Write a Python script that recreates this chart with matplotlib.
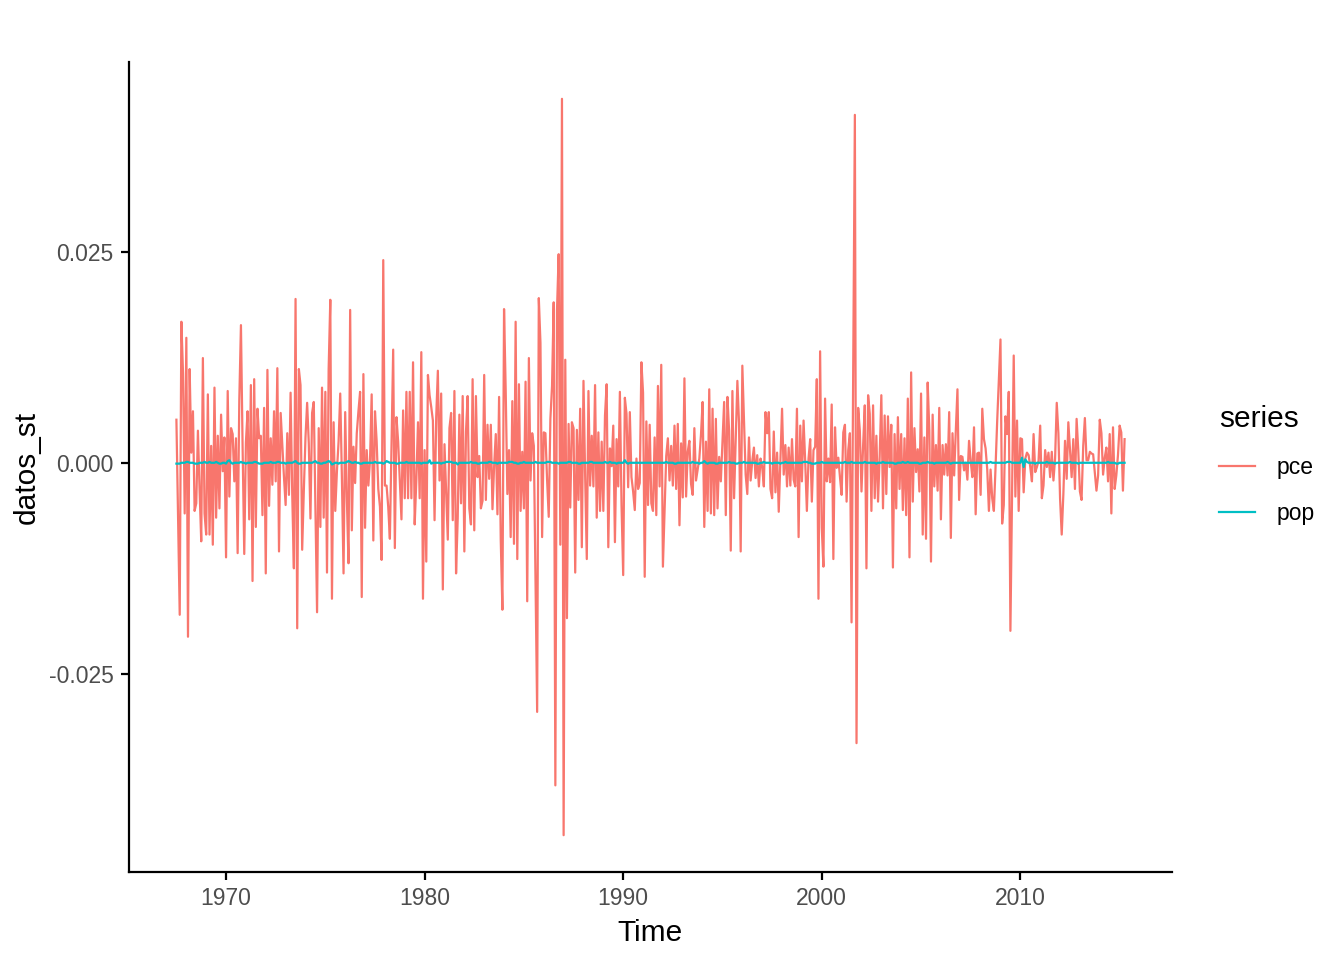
import numpy as np
import matplotlib
matplotlib.use("Agg")
import matplotlib.pyplot as plt
from matplotlib.ticker import FuncFormatter, FixedLocator

plt.rcParams['font.family'] = ['Liberation Sans', 'DejaVu Sans']
plt.rcParams['axes.unicode_minus'] = False

# ---------------- data ----------------
start_year = 1967.5          # first observation (July 1967), monthly series
series_names = ["pce", "pop"]
series_colors = ["#F8766D", "#00BFC4"]

# pce, stationary transform, in units of 1e-3
pce_1967_1973 = [
    5.1, -6.5, -18.0, 16.7, 10.6, -6.0, 14.8, -20.6, 11.1, 1.2,
    6.1, -5.7, -4.8, 3.8, -3.2, -9.3, 12.4, -6.0, -8.5, 8.1,
    -8.5, 2.0, -9.7, 8.9, -6.5, 3.2, -5.4, 5.7, -1.0, 3.0,
    -11.2, 8.5, -4.0, 4.1, 3.4, -2.2, 2.9, -10.7, 7.4, 16.3,
    1.9, -10.8, 2.4, 6.1, -6.7, 9.2, -14.0, 9.9, -7.6, 6.4,
    2.9, 3.2, -6.2, 6.5, -13.1, 11.0, -5.1, 2.9, -2.6, 6.1,
    -2.2, 11.2, -10.5, 5.9, 2.1, -1.7, -5.0, 3.5, -3.8]
pce_1973_1979 = [
    8.3, -3.8, -12.5, 19.4, -19.6, 11.1, 9.2, -10.3, -3.3, 3.0,
    7.1, 2.3, -6.6, 5.9, 7.2, -5.1, -17.7, 4.1, -7.6, 8.9,
    -6.5, 8.4, -13.0, 11.1, 19.3, -16.1, 4.8, -5.7, -1.0, 2.5,
    8.2, -1.7, -13.1, 6.0, -4.2, -11.9, 18.1, -8.0, 1.9, -2.4,
    3.5, 6.1, 8.4, -15.9, 10.5, -7.7, 1.5, -2.7, 0.3, 8.1,
    -9.2, 6.1, 2.6, -3.1, -5.2, -11.5, 24.0, -2.7, -2.7, -5.2,
    -9.0, 2.2, 13.4, -10.1, 5.4, 2.5, -2.2, -6.7, 6.2, -4.2,
    8.4, -4.2]
pce_1979_1985 = [
    8.4, -4.2, 11.9, -7.3, -2.0, 4.8, -4.2, 13.1, -16.1, 1.5,
    -11.7, 10.4, 8.0, 6.6, 5.0, -6.8, 5.4, 10.9, -2.1, 8.2,
    -15.0, 2.2, -3.4, -9.1, 4.1, 5.9, -6.8, 8.5, -13.1, -6.6,
    5.7, -4.8, 7.9, -10.5, 3.7, 7.9, -5.4, -7.3, 9.9, -8.0,
    7.9, -1.7, 0.8, -5.4, -4.5, 10.4, -4.4, 4.5, -1.9, 4.5,
    -5.5, -0.4, 3.4, -6.1, 7.8, -9.1, -17.4, 18.2, 8.5, -3.7,
    1.5, -8.8, 7.3, -9.6, 16.7, -11.4, 9.3, -5.7, 1.3, -5.4,
    9.6, -16.4]
pce_1985_1991 = [
    12.4, -2.1, 3.5, 2.0, -13.7, -29.5, 19.5, 14.2, -8.8, 3.6,
    3.5, -2.0, -6.4, 5.2, 9.1, 19.0, -38.2, 18.1, 24.7, -9.7,
    43.1, -44.1, 12.2, -18.4, 4.6, -5.3, 4.8, 4.1, -13.0, 3.9,
    -4.4, 6.4, -10.0, 9.7, -1.5, -11.4, 8.5, -2.7, 3.2, -2.8,
    9.2, -6.5, 3.6, -5.7, 2.5, -5.7, 5.6, 9.3, -10.0, 1.7,
    -0.4, 4.4, -9.4, 2.8, -2.8, 8.4, -5.1, -13.3, 7.7, 5.8,
    -2.9, 6.0, -1.7, -3.4, -5.6, 0.5, -3.1, -2.4, 11.9, 8.3,
    -13.5, 4.9, -5.0]
pce_1991_1997 = [
    4.5, -4.8, -5.7, 3.0, -6.2, 9.1, -2.8, 11.6, -12.3, -5.7,
    0.8, 2.9, -2.1, 2.0, -2.7, 4.4, -3.1, 4.6, -7.4, 2.3,
    -4.1, 10.0, -4.0, 1.3, 2.6, -2.5, -3.8, 4.1, -2.1, -0.8,
    0.5, 3.3, 7.2, -7.6, 2.5, -5.7, 8.7, -6.0, 6.4, -6.2,
    5.2, -5.4, 0.7, -2.2, 2.5, 7.2, -6.2, 7.8, 3.8, -10.4,
    8.5, -4.2, 2.6, 9.7, 4.7, -10.5, 11.5, 5.0, -1.4, -3.7,
    3.0, -2.1, 0.2, 1.8, -1.8, 0.9, -2.8, 0.5, -0.5, -2.8,
    6.0, 3.5]
pce_1997_2003 = [
    6.0, -3.1, -4.2, 3.7, -3.5, 1.2, -5.8, 0.5, 6.4, -1.4,
    2.1, -2.8, 1.8, -2.7, 2.8, -2.0, -2.8, 6.4, -8.8, 4.4,
    -2.2, 5.0, 0.1, -5.7, 0.5, 2.8, -4.6, 1.5, 1.9, 9.9,
    -16.1, 13.2, -7.7, -12.3, 7.6, -2.2, 0.5, -2.3, 6.9, -11.4,
    4.2, -0.6, 0.6, -1.7, -3.8, 3.6, 4.5, -4.6, 1.5, 3.5,
    -18.9, 11.2, 41.2, -33.2, 6.5, 3.8, -3.4, 2.1, 6.8, -12.5,
    8.0, 5.8, -5.7, 6.8, -4.2, 3.2, -4.6, 0.8, 8.0, -5.4,
    5.6, -3.7]
pce_2003_2009 = [
    5.5, -0.5, 4.5, -12.4, 3.4, -5.4, 5.4, -3.1, 3.4, -5.6,
    2.9, -6.2, 7.6, -11.2, 10.7, -4.6, 4.1, -1.1, 1.6, -3.4,
    8.2, -8.5, 3.0, -9.0, 9.5, 3.8, -11.7, 5.7, -2.8, 2.1,
    -3.3, 6.5, -6.7, 2.1, -1.4, 2.2, -1.5, 6.0, -8.9, 3.5,
    -1.5, 3.8, 8.7, -4.4, 0.8, 0.7, -0.9, 0.0, -2.0, 2.6,
    0.2, -1.7, 4.2, -6.1, 1.1, 1.2, -3.8, 6.4, 2.8, 1.7,
    -0.8, -5.7, -0.8, -4.2, -5.7, -0.6, 4.9, 9.8, 14.6, -7.2,
    -5.0, 5.5, 3.4]
pce_2009_2015 = [
    8.4, -19.9, -3.7, 12.7, -4.0, 5.0, -5.7, 2.9, 2.8, -3.5,
    0.5, 1.2, 0.9, -0.5, -2.2, 3.4, -1.1, -0.5, 0.2, 4.4,
    -4.2, -2.7, 1.5, -0.5, 1.2, -1.7, 1.3, -2.1, 0.5, 7.1,
    3.5, -4.2, -8.5, -3.7, 2.6, -1.9, 4.8, 1.5, -1.7, 2.8,
    -3.1, 5.2, 1.5, -3.4, -4.4, 2.0, 5.3, 0.3, 0.3, 1.3,
    1.1, 1.0, -1.1, -3.3, -1.5, 5.1, 3.5, -1.4, 0.6, 1.8,
    -2.2, 3.4, -6.0, 4.2, -3.1, -1.5, 0.9, 4.4, 3.6, -3.3,
    2.8]

# pop, stationary transform, in units of 1e-4
pop_1967_1973 = [
    -1, -1, -1, 0, 0, 0, 1, 1, 0, 0,
    0, -1, -1, -1, 0, 0, 0, 1, 0, 0,
    1, 0, 0, 0, 1, 0, -1, -1, 0, 0,
    -1, 2, 3, 0, -1, 0, 0, 0, 0, 1,
    0, 0, -1, 0, 0, 0, 0, 1, 1, 0,
    -1, -1, -1, 0, 0, 0, 0, 1, 0, 0,
    0, 1, 1, 0, 0, 0, -1, 0, 0]
pop_1973_1979 = [
    0, 0, 1, 2, 0, -1, -1, 0, 0, 0,
    0, 0, 0, 0, 1, 2, 0, 0, -1, -1,
    0, 0, 1, 2, 1, -2, -1, 0, 0, -1,
    0, 0, 0, 0, 1, 2, 1, 0, 0, 1,
    0, 0, -1, -1, 0, 0, 0, 0, 0, 0,
    0, 1, 0, 0, 0, 0, -1, 0, 2, 1,
    0, 0, 0, 0, -1, -1, 0, 0, 0, 0,
    1, 0]
pop_1979_1985 = [
    0, 0, 0, 0, 0, 0, 0, -1, 0, 0,
    0, 0, 3, -1, 0, 0, 0, 0, 0, -1,
    0, 0, 1, 1, 1, 1, 0, 0, 0, -2,
    0, 0, 0, 0, 0, 0, 0, 1, 0, 0,
    0, -1, -1, 0, 0, 0, 0, 0, 1, 1,
    0, 0, 0, -1, 0, 0, 0, 0, 0, 0,
    1, 1, 1, 0, 0, -1, -1, 0, 0, 1,
    0, 0]
pop_1985_1991 = [
    0, 0, 0, 0, 1, 0, 0, 0, 0, 0,
    0, 1, 1, 1, 0, 0, 0, 0, -1, 0,
    0, 0, 0, 0, 1, 1, 0, 0, 0, 0,
    -1, -1, 0, 0, 0, 0, 0, 1, 1, 0,
    0, 0, 0, 0, 0, 0, 1, 0, 0, 1,
    0, 0, 0, -1, 0, 0, 0, 0, 3, 0,
    -1, 0, 0, 0, 0, 0, 0, 0, 0, 0,
    0, 0, 0]
pop_1991_1997 = [
    0, 0, 0, 0, 0, 0, 0, 0, 0, 0,
    1, 0, 0, 0, 0, -1, -1, 0, 0, 0,
    0, 0, 0, 0, 0, 0, 1, 0, 0, 0,
    -1, 0, 0, 2, 0, -1, 0, 0, 0, 0,
    -1, -1, 0, 0, 0, 0, 0, 0, 1, 0,
    0, 0, -1, -1, 0, 0, 0, 1, 0, 0,
    0, 0, 0, 0, 0, -1, -1, 0, 0, 1,
    0, 0]
pop_1997_2003 = [
    0, 0, -1, 0, 0, 0, 0, -1, 0, 0,
    1, 0, 0, 0, 0, 0, 0, 0, 0, 0,
    0, 1, 1, 1, 0, 0, -1, -1, -1, 0,
    0, 0, 1, 0, 0, 0, 0, 0, 0, 0,
    0, 0, 0, 0, 0, 0, 1, 0, 0, 0,
    1, 0, 0, 0, 0, 0, 0, 0, 1, 0,
    0, 0, 0, 0, 0, -1, 0, 0, 0, 1,
    0, 0]
pop_2003_2009 = [
    0, 0, 0, 0, -1, -1, 0, 0, 0, 1,
    0, 0, 1, 0, 0, 0, 0, 0, 0, -1,
    -1, 0, 0, 0, 1, 0, 0, 0, -1, 0,
    0, 0, 0, 0, 0, 0, 1, 0, -1, 0,
    0, 0, 0, 0, 0, 0, 0, 0, 0, 0,
    0, 0, 0, 0, 0, 0, 0, 0, 0, 0,
    0, 0, 1, 0, 0, 0, 0, 0, 0, 0,
    0, 0, 1]
pop_2009_2015 = [
    1, 1, 0, 0, 0, 0, 0, 0, 6, -5,
    4, 1, 0, 0, 0, 0, -1, 0, 0, 0,
    0, 0, 0, 1, 0, 0, 0, 0, -1, 0,
    0, 0, 0, 0, 0, 0, 0, 1, 0, 0,
    0, 0, -1, 0, 0, 0, 0, 0, 0, 0,
    0, 0, 0, 0, 0, 0, 0, 0, 0, 0,
    1, 0, 0, 0, 0, -1, -1, 0, 0, 0,
    0]

x_ticks = [1970, 1980, 1990, 2000, 2010]
y_ticks = [-0.025, 0.0, 0.025]

# ---------------- assemble ----------------
pce = np.array(pce_1967_1973 + pce_1973_1979 + pce_1979_1985 + pce_1985_1991 +
               pce_1991_1997 + pce_1997_2003 + pce_2003_2009 + pce_2009_2015) / 1e3
pop = np.array(pop_1967_1973 + pop_1973_1979 + pop_1979_1985 + pop_1985_1991 +
               pop_1991_1997 + pop_1997_2003 + pop_2003_2009 + pop_2009_2015) / 1e4
t_pce = start_year + np.arange(len(pce)) / 12.0
t_pop = start_year + np.arange(len(pop)) / 12.0

# ---------------- figure ----------------
fig = plt.figure(figsize=(13.44, 9.6), dpi=100)
ax = fig.add_axes([129 / 1344, 1 - 872 / 960, (1172 - 129) / 1344, (872 - 62) / 960])

ax.plot(t_pce, pce, color=series_colors[0], lw=1.6, label=series_names[0])
ax.plot(t_pop, pop, color=series_colors[1], lw=1.6, label=series_names[1])

ax.margins(x=0.05, y=0.05)
ax.xaxis.set_major_locator(FixedLocator(x_ticks))
ax.yaxis.set_major_locator(FixedLocator(y_ticks))
ax.xaxis.set_major_formatter(FuncFormatter(lambda v, p: f"{int(round(v))}"))
ax.yaxis.set_major_formatter(FuncFormatter(lambda v, p: f"{v:.3f}"))

for s in ["top", "right"]:
    ax.spines[s].set_visible(False)
for s in ["left", "bottom"]:
    ax.spines[s].set_linewidth(1.6)
    ax.spines[s].set_color("black")

ax.tick_params(axis="both", which="major", length=5.5, width=1.6, color="black",
               labelsize=16.5, labelcolor="#4D4D4D", pad=5.5)

ax.set_xlabel("Time", fontsize=21.5, color="black", labelpad=6)
ax.set_ylabel("datos_st", fontsize=21.5, color="black", labelpad=6)

leg = ax.legend(loc="center left", bbox_to_anchor=(1219 / 1344, 0.5 + 15 / 960),
                bbox_transform=fig.transFigure, frameon=False,
                title="series", title_fontsize=21.5, fontsize=16.5,
                handlelength=1.55, handletextpad=0.95, labelspacing=1.0,
                borderpad=0, borderaxespad=0, alignment="left")

fig.savefig("out.png", dpi=100, facecolor="white")
